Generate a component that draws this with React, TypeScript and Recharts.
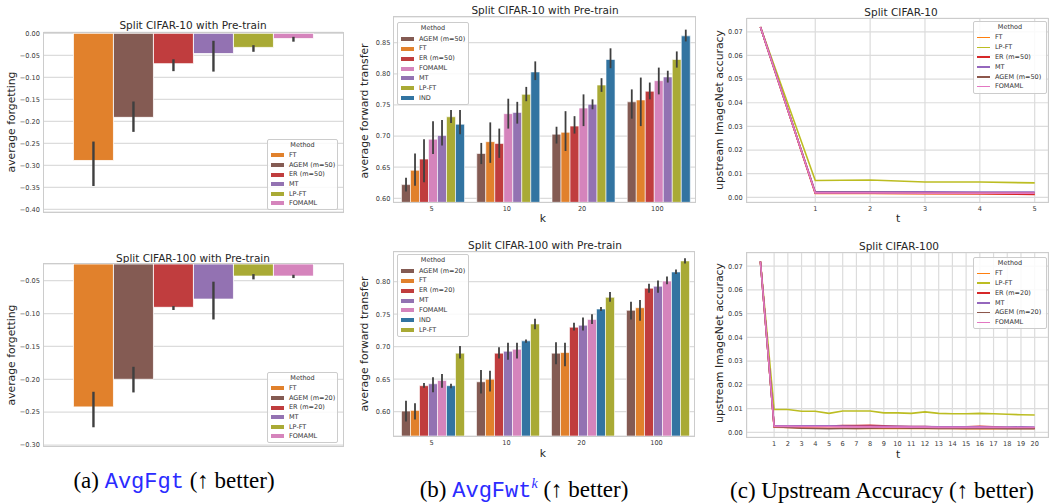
import React from "react";
import {
  BarChart,
  Bar,
  ErrorBar,
  LineChart,
  Line,
  XAxis,
  YAxis,
  CartesianGrid,
  Legend,
} from "recharts";

const FONT = "'DejaVu Sans', sans-serif";
const SERIF = "'Liberation Serif', 'Times New Roman', serif";
const MONO = "'Liberation Mono', 'Courier New', monospace";
const INK = "#262626";
const TICK = "#3a3a3a";
const GRID = "#dcdcdc";
const FRAME = "#cccccc";

// seaborn-desaturated tab10 for bars, plain tab10 for lines
const barColors: Record<string, string> = {
  FT: "#e1812c",
  AGEM: "#845b53",
  ER: "#c03d3e",
  MT: "#9372b2",
  "LP-FT": "#a9aa35",
  FOMAML: "#d584bc",
  IND: "#3274a1",
};
const lineColors: Record<string, string> = {
  FT: "#ff7f0e",
  AGEM: "#8c564b",
  ER: "#d62728",
  MT: "#9467bd",
  "LP-FT": "#bcbd22",
  FOMAML: "#e377c2",
};
const baseName = (n: string) => n.split(" ")[0];

// (a) average forgetting, Split CIFAR-10
const fgt10Methods = ["FT", "AGEM (m=50)", "ER (m=50)", "MT", "LP-FT", "FOMAML"];
const fgt10Mean = [-0.289, -0.191, -0.069, -0.046, -0.032, -0.012];
const fgt10Low = [-0.347, -0.224, -0.086, -0.087, -0.042, -0.019];
const fgt10High = [-0.246, -0.155, -0.059, -0.017, -0.027, -0.008];
const fgt10Ticks = [0, -0.05, -0.1, -0.15, -0.2, -0.25, -0.3, -0.35, -0.4];

// (a) average forgetting, Split CIFAR-100
const fgt100Methods = ["FT", "AGEM (m=20)", "ER (m=20)", "MT", "LP-FT", "FOMAML"];
const fgt100Mean = [-0.242, -0.2, -0.0905, -0.078, -0.043, -0.043];
const fgt100Low = [-0.273, -0.22, -0.0946, -0.109, -0.048, -0.046];
const fgt100High = [-0.219, -0.181, -0.0885, -0.0515, -0.04, -0.041];
const fgt100Ticks = [-0.05, -0.1, -0.15, -0.2, -0.25, -0.3];

// (b) average forward transfer
const kLabels = ["5", "10", "20", "100"];

const fwt10Methods = ["AGEM (m=50)", "FT", "ER (m=50)", "FOMAML", "MT", "LP-FT", "IND"];
const fwt10Mean = [
  [0.622, 0.672, 0.703, 0.755],
  [0.645, 0.691, 0.706, 0.758],
  [0.663, 0.688, 0.716, 0.772],
  [0.695, 0.736, 0.745, 0.789],
  [0.701, 0.738, 0.751, 0.795],
  [0.731, 0.767, 0.782, 0.823],
  [0.719, 0.803, 0.823, 0.861],
];
const fwt10Low = [
  [0.611, 0.655, 0.688, 0.728],
  [0.62, 0.657, 0.676, 0.716],
  [0.626, 0.665, 0.704, 0.759],
  [0.671, 0.712, 0.716, 0.767],
  [0.685, 0.72, 0.743, 0.786],
  [0.721, 0.756, 0.771, 0.81],
  [0.703, 0.79, 0.809, 0.852],
];
const fwt10High = [
  [0.633, 0.689, 0.715, 0.775],
  [0.672, 0.722, 0.74, 0.794],
  [0.695, 0.712, 0.732, 0.786],
  [0.724, 0.76, 0.767, 0.81],
  [0.726, 0.755, 0.759, 0.805],
  [0.742, 0.779, 0.793, 0.836],
  [0.742, 0.82, 0.841, 0.871],
];
const fwt10Ticks = [0.6, 0.65, 0.7, 0.75, 0.8, 0.85];

const fwt100Methods = ["AGEM (m=20)", "FT", "ER (m=20)", "MT", "FOMAML", "IND", "LP-FT"];
const fwt100Mean = [
  [0.601, 0.646, 0.69, 0.756],
  [0.602, 0.65, 0.691, 0.76],
  [0.64, 0.69, 0.73, 0.79],
  [0.643, 0.693, 0.733, 0.793],
  [0.648, 0.696, 0.742, 0.801],
  [0.64, 0.709, 0.758, 0.815],
  [0.69, 0.735, 0.776, 0.832],
];
const fwt100Low = [
  [0.585, 0.628, 0.673, 0.742],
  [0.588, 0.631, 0.67, 0.74],
  [0.637, 0.682, 0.725, 0.783],
  [0.63, 0.68, 0.725, 0.783],
  [0.637, 0.682, 0.735, 0.796],
  [0.636, 0.706, 0.755, 0.812],
  [0.682, 0.727, 0.769, 0.828],
];
const fwt100High = [
  [0.617, 0.664, 0.707, 0.769],
  [0.613, 0.663, 0.706, 0.772],
  [0.644, 0.699, 0.737, 0.797],
  [0.653, 0.706, 0.745, 0.802],
  [0.658, 0.706, 0.75, 0.808],
  [0.643, 0.711, 0.761, 0.819],
  [0.701, 0.743, 0.784, 0.836],
];
const fwt100Ticks = [0.6, 0.65, 0.7, 0.75, 0.8];

// (c) upstream ImageNet accuracy
const upMethods10 = ["FT", "LP-FT", "ER (m=50)", "MT", "AGEM (m=50)", "FOMAML"];
const upT10 = [0, 1, 2, 3, 4, 5];
const upAcc10 = [
  [0.072, 0.0016, 0.0016, 0.0015, 0.0015, 0.0013],
  [0.072, 0.0071, 0.0073, 0.0065, 0.0065, 0.0061],
  [0.072, 0.0018, 0.0018, 0.0016, 0.0015, 0.0012],
  [0.072, 0.0023, 0.0023, 0.0023, 0.0022, 0.0022],
  [0.072, 0.002, 0.002, 0.0019, 0.0019, 0.0018],
  [0.072, 0.0019, 0.0019, 0.0018, 0.0018, 0.0018],
];
const upXTicks10 = [1, 2, 3, 4, 5];

const upMethods100 = ["FT", "LP-FT", "ER (m=20)", "MT", "AGEM (m=20)", "FOMAML"];
const upT100 = [0, 1, 2, 3, 4, 5, 6, 7, 8, 9, 10, 11, 12, 13, 14, 15, 16, 17, 18, 19, 20];
const upAcc100 = [
  [0.072, 0.0022, 0.0021, 0.0019, 0.0018, 0.0017, 0.0017, 0.0016, 0.0016, 0.0016, 0.0016, 0.0016, 0.0016, 0.0016, 0.0016, 0.0015, 0.0015, 0.0015, 0.0016, 0.0016, 0.0016],
  [0.072, 0.0096, 0.0096, 0.0089, 0.0089, 0.008, 0.009, 0.009, 0.009, 0.0082, 0.0082, 0.008, 0.0086, 0.008, 0.0078, 0.0078, 0.008, 0.0078, 0.0076, 0.0074, 0.0073],
  [0.072, 0.0025, 0.0025, 0.0025, 0.0026, 0.0026, 0.0028, 0.0028, 0.003, 0.0027, 0.0025, 0.0024, 0.0024, 0.0022, 0.0022, 0.0023, 0.0025, 0.0023, 0.002, 0.002, 0.0017],
  [0.072, 0.0027, 0.0027, 0.0027, 0.0027, 0.0027, 0.0026, 0.0025, 0.0025, 0.0025, 0.0025, 0.0024, 0.0024, 0.0023, 0.0023, 0.0023, 0.0023, 0.0022, 0.0022, 0.0023, 0.0022],
  [0.072, 0.0023, 0.002, 0.0017, 0.0016, 0.0015, 0.0016, 0.0016, 0.0017, 0.0018, 0.0018, 0.0017, 0.0017, 0.0016, 0.0016, 0.0016, 0.0016, 0.0016, 0.0015, 0.0015, 0.0015],
  [0.072, 0.0025, 0.0025, 0.0024, 0.0024, 0.0024, 0.0023, 0.0023, 0.0023, 0.0022, 0.0022, 0.0022, 0.0022, 0.0021, 0.0021, 0.0021, 0.0021, 0.0021, 0.002, 0.002, 0.002],
];
const upXTicks100 = upT100.slice(1);
const upYTicks = [0, 0.01, 0.02, 0.03, 0.04, 0.05, 0.06, 0.07];

type Box = { left: number; top: number; width: number; height: number };
type Plot = { x0: number; y0: number; x1: number; y1: number };
type LegendBox = { x: number; y: number; w: number; rowH: number };

const fmt = (v: number) =>
  Math.abs(v) < 1e-9 ? "0.00" : v.toFixed(2).replace("-", "\u2212");

const tickStyle = { fontSize: 6.6, fill: TICK, fontFamily: FONT };

function marginsFor(box: Box, plot: Plot, xHeight: number) {
  return {
    top: plot.y0 - box.top,
    right: box.left + box.width - plot.x1,
    bottom: box.top + box.height - plot.y1 - xHeight,
    left: 0,
  };
}

const MethodLegend = ({ payload, lg, line }: { payload?: any[]; lg: LegendBox; line?: boolean }) => (
  <div
    style={{
      width: lg.w,
      boxSizing: "border-box",
      border: `1px solid ${FRAME}`,
      borderRadius: 2,
      background: "rgba(255,255,255,0.85)",
      padding: "1px 3px 1px 3px",
      fontFamily: FONT,
      fontSize: 6.5,
      color: "#333",
    }}
  >
    <div style={{ height: lg.rowH, lineHeight: `${lg.rowH}px`, textAlign: "center" }}>Method</div>
    {(payload || []).map((p: any) => (
      <div key={p.value} style={{ height: lg.rowH, display: "flex", alignItems: "center" }}>
        <span
          style={{
            display: "inline-block",
            flex: "none",
            width: 13,
            height: line ? 1.6 : 4,
            background: p.color,
            marginRight: 5,
          }}
        />
        <span style={{ lineHeight: 1, whiteSpace: "nowrap" }}>{p.value}</span>
      </div>
    ))}
  </div>
);

const renderLegend = (names: string[], box: Box, lg: LegendBox, line?: boolean) => (
  <Legend
    layout="vertical"
    align="center"
    verticalAlign="middle"
    itemSorter={(item: any) => names.indexOf(item.value)}
    wrapperStyle={{ left: lg.x - box.left, top: lg.y - box.top, width: lg.w, height: "auto", zIndex: 2 }}
    content={(props: any) => <MethodLegend payload={props.payload} lg={lg} line={line} />}
  />
);

const Txt = ({
  x,
  y,
  size,
  rotate = 0,
  family = FONT,
  color = INK,
  children,
}: {
  x: number;
  y: number;
  size: number;
  rotate?: number;
  family?: string;
  color?: string;
  children: React.ReactNode;
}) => (
  <div
    style={{
      position: "absolute",
      left: x,
      top: y,
      transform: `translate(-50%, -50%) rotate(${rotate}deg)`,
      fontFamily: family,
      fontSize: size,
      color,
      whiteSpace: "nowrap",
      lineHeight: 1,
    }}
  >
    {children}
  </div>
);

// light grey spines around the plotting area
const Frame = ({ box, plot }: { box: Box; plot: Plot }) => (
  <div
    style={{
      position: "absolute",
      left: plot.x0 - box.left - 0.6,
      top: plot.y0 - box.top - 0.6,
      width: plot.x1 - plot.x0 + 1.2,
      height: plot.y1 - plot.y0 + 1.2,
      boxSizing: "border-box",
      border: `1.3px solid ${FRAME}`,
      pointerEvents: "none",
      zIndex: 1,
    }}
  />
);

// single-category bar panel with error bars (forgetting)
function ForgetPanel(props: {
  box: Box;
  plot: Plot;
  names: string[];
  mean: number[];
  low: number[];
  high: number[];
  domain: [number, number];
  ticks: number[];
  lg: LegendBox;
}) {
  const { box, plot, names, mean, low, high, domain, ticks, lg } = props;
  const row: Record<string, any> = { name: "" };
  names.forEach((n, i) => {
    row[n] = mean[i];
    row[`${n}_err`] = [mean[i] - low[i], high[i] - mean[i]];
  });
  return (
    <div style={{ position: "absolute", left: box.left, top: box.top, width: box.width, height: box.height }}>
      <BarChart
        width={box.width}
        height={box.height}
        data={[row]}
        margin={marginsFor(box, plot, 0)}
        barCategoryGap="10%"
        barGap={0}
      >
        <CartesianGrid vertical={false} stroke={GRID} strokeWidth={1.2} />
        <XAxis dataKey="name" hide />
        <YAxis
          type="number"
          domain={domain}
          ticks={ticks}
          allowDataOverflow
          interval={0}
          width={plot.x0 - box.left}
          tickLine={false}
          axisLine={false}
          tickSize={0}
          tickMargin={3.5}
          tick={tickStyle}
          tickFormatter={fmt}
        />
        {names.map((n) => (
          <Bar
            key={n}
            dataKey={n}
            name={n}
            fill={barColors[baseName(n)]}
            stroke="#ffffff"
            strokeWidth={0.8}
            isAnimationActive={false}
          >
            <ErrorBar dataKey={`${n}_err`} width={0} stroke="#3f3f3f" strokeWidth={2.4} isAnimationActive={false} />
          </Bar>
        ))}
        {renderLegend(names, box, lg)}
      </BarChart>
      <Frame box={box} plot={plot} />
    </div>
  );
}

// grouped bar panel (forward transfer vs k)
function FwtPanel(props: {
  box: Box;
  plot: Plot;
  names: string[];
  mean: number[][];
  low: number[][];
  high: number[][];
  domain: [number, number];
  ticks: number[];
  lg: LegendBox;
}) {
  const { box, plot, names, mean, low, high, domain, ticks, lg } = props;
  const rows = kLabels.map((k, j) => {
    const r: Record<string, any> = { k };
    names.forEach((n, i) => {
      r[n] = mean[i][j];
      r[`${n}_err`] = [mean[i][j] - low[i][j], high[i][j] - mean[i][j]];
    });
    return r;
  });
  return (
    <div style={{ position: "absolute", left: box.left, top: box.top, width: box.width, height: box.height }}>
      <BarChart
        width={box.width}
        height={box.height}
        data={rows}
        margin={marginsFor(box, plot, 20)}
        barCategoryGap="10%"
        barGap={0}
      >
        <CartesianGrid vertical={false} stroke={GRID} strokeWidth={1.2} />
        <XAxis
          dataKey="k"
          height={20}
          tickLine={false}
          axisLine={false}
          tickSize={0}
          tickMargin={4.5}
          tick={tickStyle}
          interval={0}
        />
        <YAxis
          type="number"
          domain={domain}
          ticks={ticks}
          allowDataOverflow
          interval={0}
          width={plot.x0 - box.left}
          tickLine={false}
          axisLine={false}
          tickSize={0}
          tickMargin={3.5}
          tick={tickStyle}
          tickFormatter={fmt}
        />
        {names.map((n) => (
          <Bar
            key={n}
            dataKey={n}
            name={n}
            fill={barColors[baseName(n)]}
            stroke="#ffffff"
            strokeWidth={0.6}
            isAnimationActive={false}
          >
            <ErrorBar dataKey={`${n}_err`} width={0} stroke="#3f3f3f" strokeWidth={1.8} isAnimationActive={false} />
          </Bar>
        ))}
        {renderLegend(names, box, lg)}
      </BarChart>
      <Frame box={box} plot={plot} />
    </div>
  );
}

// line panel (upstream accuracy vs t)
function UpstreamPanel(props: {
  box: Box;
  plot: Plot;
  names: string[];
  t: number[];
  acc: number[][];
  xDomain: [number, number];
  xTicks: number[];
  lg: LegendBox;
}) {
  const { box, plot, names, t, acc, xDomain, xTicks, lg } = props;
  const rows = t.map((tv, j) => {
    const r: Record<string, number> = { t: tv };
    names.forEach((n, i) => {
      r[n] = acc[i][j];
    });
    return r;
  });
  return (
    <div style={{ position: "absolute", left: box.left, top: box.top, width: box.width, height: box.height }}>
      <LineChart width={box.width} height={box.height} data={rows} margin={marginsFor(box, plot, 20)}>
        <CartesianGrid stroke={GRID} strokeWidth={1.2} />
        <XAxis
          dataKey="t"
          type="number"
          domain={xDomain}
          ticks={xTicks}
          allowDataOverflow
          interval={0}
          height={20}
          tickLine={false}
          axisLine={false}
          tickSize={0}
          tickMargin={4.5}
          tick={tickStyle}
        />
        <YAxis
          type="number"
          domain={[-0.0021, 0.0757]}
          ticks={upYTicks}
          allowDataOverflow
          interval={0}
          width={plot.x0 - box.left}
          tickLine={false}
          axisLine={false}
          tickSize={0}
          tickMargin={4}
          tick={tickStyle}
          tickFormatter={fmt}
        />
        {names.map((n) => (
          <Line
            key={n}
            type="linear"
            dataKey={n}
            name={n}
            stroke={lineColors[baseName(n)]}
            strokeWidth={1.6}
            dot={false}
            isAnimationActive={false}
          />
        ))}
        {renderLegend(names, box, lg, true)}
      </LineChart>
      <Frame box={box} plot={plot} />
    </div>
  );
}

export default function App() {
  const titleSize = 10.5;
  const labelSize = 10.8;
  return (
    <div
      style={{
        position: "absolute",
        left: 0,
        top: 0,
        width: 1049,
        height: 504,
        background: "#ffffff",
        overflow: "hidden",
      }}
    >
      <ForgetPanel
        box={{ left: 0, top: 0, width: 350, height: 225 }}
        plot={{ x0: 43.5, y0: 32.3, x1: 343, y1: 212 }}
        names={fgt10Methods}
        mean={fgt10Mean}
        low={fgt10Low}
        high={fgt10High}
        domain={[-0.4061, 0.0023]}
        ticks={fgt10Ticks}
        lg={{ x: 267, y: 139, w: 71, rowH: 9.6 }}
      />
      <ForgetPanel
        box={{ left: 0, top: 230, width: 350, height: 230 }}
        plot={{ x0: 43.5, y0: 264, x1: 343, y1: 446 }}
        names={fgt100Methods}
        mean={fgt100Mean}
        low={fgt100Low}
        high={fgt100High}
        domain={[-0.3015, -0.0246]}
        ticks={fgt100Ticks}
        lg={{ x: 267, y: 372, w: 71, rowH: 9.6 }}
      />
      <FwtPanel
        box={{ left: 350, top: 0, width: 350, height: 230 }}
        plot={{ x0: 394, y0: 17, x1: 695, y1: 202.3 }}
        names={fwt10Methods}
        mean={fwt10Mean}
        low={fwt10Low}
        high={fwt10High}
        domain={[0.5936, 0.8913]}
        ticks={fwt10Ticks}
        lg={{ x: 397, y: 22, w: 72, rowH: 9.9 }}
      />
      <FwtPanel
        box={{ left: 350, top: 230, width: 350, height: 230 }}
        plot={{ x0: 394, y0: 251.7, x1: 694, y1: 436 }}
        names={fwt100Methods}
        mean={fwt100Mean}
        low={fwt100Low}
        high={fwt100High}
        domain={[0.5626, 0.8462]}
        ticks={fwt100Ticks}
        lg={{ x: 397, y: 254, w: 72, rowH: 9.9 }}
      />
      <UpstreamPanel
        box={{ left: 700, top: 0, width: 349, height: 230 }}
        plot={{ x0: 746.7, y0: 18.3, x1: 1048.4, y1: 202.3 }}
        names={upMethods10}
        t={upT10}
        acc={upAcc10}
        xDomain={[-0.25, 5.25]}
        xTicks={upXTicks10}
        lg={{ x: 973, y: 21, w: 74, rowH: 9.8 }}
      />
      <UpstreamPanel
        box={{ left: 700, top: 230, width: 349, height: 230 }}
        plot={{ x0: 746.7, y0: 252.7, x1: 1048.4, y1: 437.3 }}
        names={upMethods100}
        t={upT100}
        acc={upAcc100}
        xDomain={[-1, 21]}
        xTicks={upXTicks100}
        lg={{ x: 973, y: 256.7, w: 74, rowH: 9.8 }}
      />

      {/* titles */}
      <Txt x={193} y={24.5} size={titleSize}>Split CIFAR-10 with Pre-train</Txt>
      <Txt x={193} y={257.5} size={titleSize}>Split CIFAR-100 with Pre-train</Txt>
      <Txt x={545} y={10} size={titleSize}>Split CIFAR-10 with Pre-train</Txt>
      <Txt x={545} y={244.5} size={titleSize}>Split CIFAR-100 with Pre-train</Txt>
      <Txt x={901} y={11.5} size={titleSize}>Split CIFAR-10</Txt>
      <Txt x={899} y={245.5} size={titleSize}>Split CIFAR-100</Txt>

      {/* axis labels */}
      <Txt x={12} y={122} size={labelSize} rotate={-90}>average forgetting</Txt>
      <Txt x={12} y={355} size={labelSize} rotate={-90}>average forgetting</Txt>
      <Txt x={365} y={111} size={labelSize} rotate={-90}>average forward transfer</Txt>
      <Txt x={365} y={344} size={labelSize} rotate={-90}>average forward transfer</Txt>
      <Txt x={720} y={110} size={labelSize} rotate={-90}>upstream ImageNet accuracy</Txt>
      <Txt x={720} y={343} size={labelSize} rotate={-90}>upstream ImageNet accuracy</Txt>
      <Txt x={543} y={219} size={labelSize}>k</Txt>
      <Txt x={543} y={454} size={labelSize}>k</Txt>
      <Txt x={898} y={219} size={labelSize}>t</Txt>
      <Txt x={898} y={455} size={labelSize}>t</Txt>

      {/* sub-figure captions */}
      <Txt x={174} y={481} size={23} family={SERIF} color="#000">
        (a) <span style={{ fontFamily: MONO, color: "#2b2bff", fontSize: 22 }}>AvgFgt</span> (↑ better)
      </Txt>
      <Txt x={524} y={490} size={23} family={SERIF} color="#000">
        (b) <span style={{ fontFamily: MONO, color: "#2b2bff", fontSize: 22 }}>AvgFwt</span>
        <sup style={{ fontStyle: "italic", color: "#2b2bff", fontSize: 14, lineHeight: 0 }}>k</sup> (↑ better)
      </Txt>
      <Txt x={882} y={490} size={23} family={SERIF} color="#000">
        (c) Upstream Accuracy (↑ better)
      </Txt>
    </div>
  );
}
